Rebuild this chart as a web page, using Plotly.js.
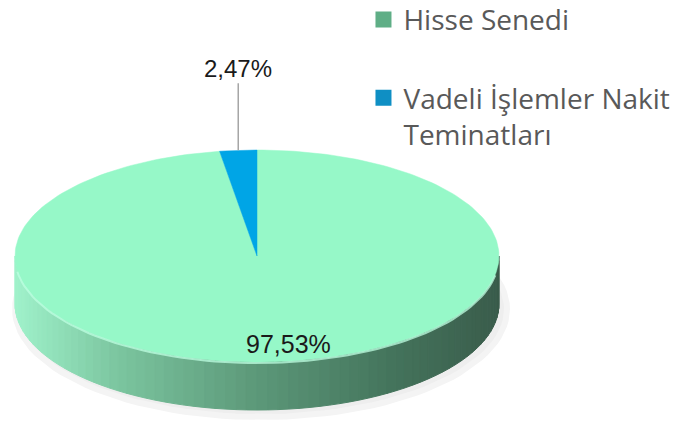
<!DOCTYPE html>
<html>
<head>
<meta charset="utf-8">
<script src="https://cdn.plot.ly/plotly-3.0.1.min.js"></script>
<style>html,body{margin:0;padding:0;background:#fff;}#chart{width:699px;height:430px;}</style>
</head>
<body>
<div id="chart"></div>
<script>
// ---- data ----
const categories = ['Hisse Senedi', 'Vadeli İşlemler Nakit Teminatları'];
const legendNames = ['Hisse Senedi', 'Vadeli İşlemler Nakit<br>Teminatları'];
const values = [97.53, 2.47];
const valueLabels = ['97,53%', '2,47%'];
const topColors = ['#96f8c8', '#00a5e6'];
const iconColors = ['#5fae86', '#0f8fc4'];

// ---- geometry (pixel space via hidden axes) ----
const W = 699, H = 430;
const cx = 257, cy = 256, rx = 242, ry = 106, depth = 48;
const deg = Math.PI / 180;
function P(theta, dy) { // theta clockwise from 12 o'clock, degrees
  return [cx + rx * Math.sin(theta * deg), cy - ry * Math.cos(theta * deg) + (dy || 0)];
}
const total = values.reduce((a, b) => a + b, 0);
const slices = [];
let acc = 0;
values.forEach((v, i) => {
  const a0 = acc / total * 360, a1 = (acc + v) / total * 360;
  slices.push({a0, a1, i});
  acc += v;
});

const traces = [];
const base = {type: 'scatter', mode: 'lines', fill: 'toself', hoverinfo: 'skip', showlegend: false};

// shadow
(function(){
  const xs = [], ys = [];
  for (let t = 0; t <= 360; t += 3) {
    xs.push(cx + 4 + (rx + 4) * Math.sin(t * deg));
    ys.push(cy + depth + 5 - (ry + 2) * Math.cos(t * deg));
  }
  traces.push(Object.assign({}, base, {x: xs, y: ys, fillcolor: '#eeeeee', line: {width: 6, color: '#f4f4f4'}}));
})();

// side (front half) with shading
const stops = [[0, [160, 242, 203]], [0.22, [122, 196, 158]], [0.5, [92, 152, 121]], [0.78, [68, 116, 92]], [1, [58, 92, 75]]];
function shade(t) {
  for (let k = 0; k < stops.length - 1; k++) {
    const [t0, c0] = stops[k], [t1, c1] = stops[k + 1];
    if (t >= t0 && t <= t1) {
      const f = (t - t0) / (t1 - t0);
      const c = c0.map((v, j) => Math.round(v + (c1[j] - v) * f));
      return 'rgb(' + c.join(',') + ')';
    }
  }
  return 'rgb(58,92,75)';
}
const N = 72;
for (let k = 0; k < N; k++) {
  const a = 270 - k * 180 / N, b = 270 - (k + 1) * 180 / N;
  const p1 = P(a, 0), p2 = P(b, 0), p3 = P(b, depth), p4 = P(a, depth);
  const tx = ((p1[0] + p2[0]) / 2 - (cx - rx)) / (2 * rx);
  const col = shade(tx);
  traces.push(Object.assign({}, base, {
    x: [p1[0], p2[0], p3[0], p4[0], p1[0]],
    y: [p1[1], p2[1], p3[1], p4[1], p1[1]],
    fillcolor: col, line: {width: 1, color: col}
  }));
}

// top face slices
slices.forEach(s => {
  const xs = [cx], ys = [cy];
  const steps = Math.max(4, Math.ceil((s.a1 - s.a0) / 1.5));
  for (let k = 0; k <= steps; k++) {
    const p = P(s.a0 + (s.a1 - s.a0) * k / steps, 0);
    xs.push(p[0]); ys.push(p[1]);
  }
  xs.push(cx); ys.push(cy);
  traces.push(Object.assign({}, base, {x: xs, y: ys, fillcolor: topColors[s.i], line: {width: 0.5, color: topColors[s.i]}}));
});

// rim highlight
(function(){
  const xs = [], ys = [];
  for (let t = 100; t <= 262; t += 2) { const p = P(t, 1); xs.push(p[0]); ys.push(p[1]); }
  traces.push({type: 'scatter', mode: 'lines', x: xs, y: ys, hoverinfo: 'skip', showlegend: false,
    line: {width: 2, color: 'rgba(190,255,225,0.75)'}});
})();

// legend entries
categories.forEach((c, i) => {
  traces.push({type: 'scatter', mode: 'markers', x: [-100], y: [-100], name: legendNames[i],
    legend: i === 0 ? 'legend' : 'legend2', hoverinfo: 'skip',
    marker: {symbol: 'square', size: 17, color: iconColors[i], line: {width: 0}}});
});

// labels
const annotations = [];
slices.forEach(s => {
  const mid = (s.a0 + s.a1) / 2;
  if (s.i === 1) {
    const p = P(mid, 0);
    annotations.push({x: p[0], y: p[1], xref: 'x', yref: 'y', text: valueLabels[s.i],
      showarrow: true, arrowhead: 0, arrowwidth: 1.5, arrowcolor: '#a6a6a6', ax: 0, ay: -82,
      font: {family: 'Liberation Sans, Arial, sans-serif', size: 24, color: '#1a1a1a'}});
  } else {
    const x = cx + 0.83 * rx * Math.sin(mid * deg) + 16;
    const y = cy - 0.83 * ry * Math.cos(mid * deg);
    annotations.push({x: x, y: y, xref: 'x', yref: 'y', text: valueLabels[s.i], showarrow: false,
      font: {family: 'Liberation Sans, Arial, sans-serif', size: 25, color: '#1a1a1a'}});
  }
});

const legendFont = {family: '"Open Sans", sans-serif', size: 28, color: '#595959'};
const layout = {
  width: W, height: H,
  margin: {l: 0, r: 0, t: 0, b: 0, autoexpand: false},
  paper_bgcolor: '#ffffff', plot_bgcolor: '#ffffff',
  xaxis: {range: [0, W], visible: false, fixedrange: true},
  yaxis: {range: [H, 0], visible: false, fixedrange: true},
  showlegend: true,
  legend: {x: 0.52, y: 1.012, xanchor: 'left', yanchor: 'top', font: legendFont, valign: 'top', bgcolor: 'rgba(0,0,0,0)', itemclick: false},
  legend2: {x: 0.52, y: 0.83, xanchor: 'left', yanchor: 'top', font: legendFont, valign: 'top', bgcolor: 'rgba(0,0,0,0)', itemclick: false},
  annotations: annotations
};
Plotly.newPlot('chart', traces, layout, {displayModeBar: false, staticPlot: true});
</script>
</body>
</html>
